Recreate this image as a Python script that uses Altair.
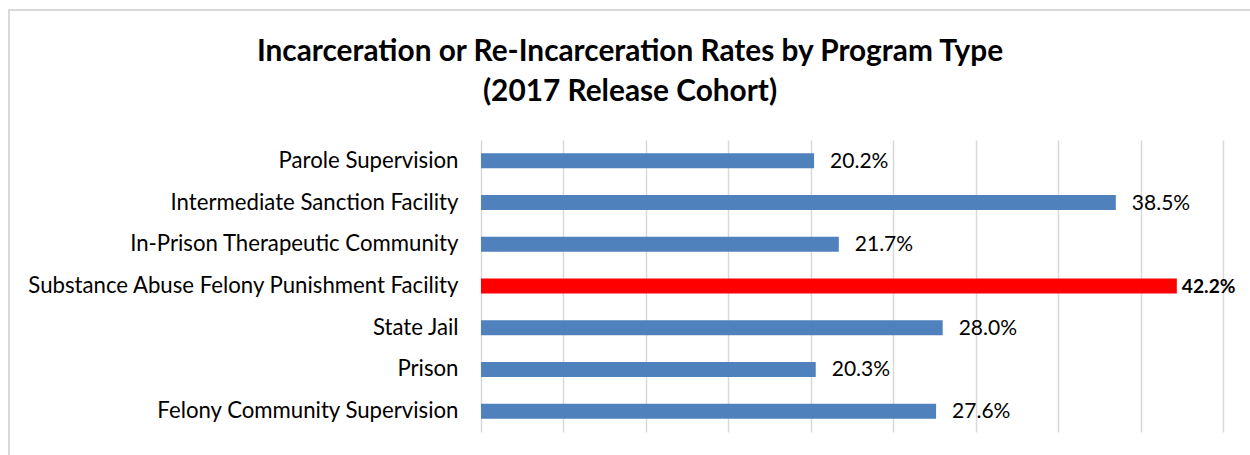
import altair as alt
import pandas as pd

categories = [
    "Parole Supervision",
    "Intermediate Sanction Facility",
    "In-Prison Therapeutic Community",
    "Substance Abuse Felony Punishment Facility",
    "State Jail",
    "Prison",
    "Felony Community Supervision",
]
values = [20.2, 38.5, 21.7, 42.2, 28.0, 20.3, 27.6]
highlight = [False, False, False, True, False, False, False]
grid_ticks = [0, 5, 10, 15, 20, 25, 30, 35, 40, 45]
title_lines = ["Incarceration or Re-Incarceration Rates by Program Type", "(2017 Release Cohort)"]

df = pd.DataFrame({"cat": categories, "val": values, "hi": highlight})
df["label"] = [f"{v:.1f}%" for v in values]

FONT = "Lato"
W, H = 742, 292
PL, PT = 481, 140

base = alt.Chart(df).encode(
    y=alt.Y("cat:N", sort=categories, title=None,
            scale=alt.Scale(paddingInner=0, paddingOuter=0),
            axis=alt.Axis(labelFont=FONT, labelFontSize=22.2, labelColor="black",
                          ticks=False, domain=False, labelPadding=23, labelLimit=500)),
)

xenc = alt.X("val:Q", title=None,
             scale=alt.Scale(domain=[0, 45], nice=False, zero=True),
             axis=alt.Axis(values=grid_ticks, labels=False, ticks=False, domain=False,
                           grid=True, gridColor="#d9d9d9", gridWidth=1.5))

bars = base.mark_bar(size=15).encode(
    x=xenc,
    color=alt.condition("datum.hi", alt.value("#ff0000"), alt.value("#4f81bd")),
)

txt = base.transform_filter("!datum.hi").mark_text(
    align="left", baseline="middle", dx=16, dy=1, font=FONT, fontSize=21, color="black"
).encode(x="val:Q", text="label:N")

txt_hi = base.transform_filter("datum.hi").mark_text(
    align="left", baseline="middle", dx=5, dy=1, font=FONT, fontSize=19.2, fontWeight="bold", color="black"
).encode(x="val:Q", text="label:N")

border = alt.Chart(pd.DataFrame({"a": [0]})).mark_rect(
    fill=None, stroke="#d9d9d9", strokeWidth=2
).encode(
    x=alt.value(9 - PL), x2=alt.value(1265 - PL),
    y=alt.value(10 - PT), y2=alt.value(470 - PT),
)

chart = alt.layer(border, bars, txt, txt_hi).properties(
    width=W, height=H,
    padding={"left": PL, "top": PT, "right": 1250 - PL - W, "bottom": 455 - PT - H},
    autosize=alt.AutoSizeParams(type="none"),
    title=alt.TitleParams(text=title_lines, anchor="middle", frame="group", dx=630 - (PL + W / 2),
                          font=FONT, fontSize=29.8, fontWeight="bold", color="black",
                          lineHeight=40, offset=-98),
).configure(background="white").configure_view(stroke=None)

chart.save("out.html", embed_options={"renderer": "svg", "actions": False})
